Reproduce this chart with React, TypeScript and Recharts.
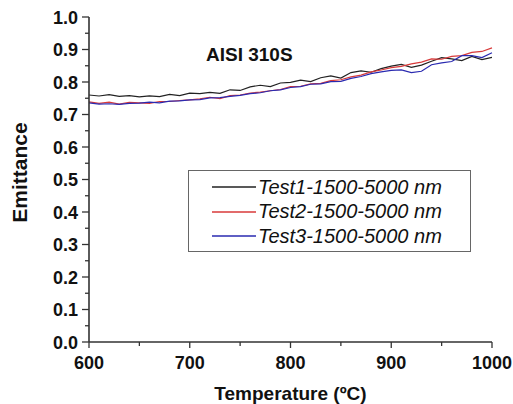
import React from 'react';
import { LineChart, Line, XAxis, YAxis, Legend, Customized } from 'recharts';

const temperatures = [600, 610, 620, 630, 640, 650, 660, 670, 680, 690, 700, 710, 720, 730, 740, 750, 760, 770, 780, 790, 800, 810, 820, 830, 840, 850, 860, 870, 880, 890, 900, 910, 920, 930, 940, 950, 960, 970, 980, 990, 1000];
const test1 = [0.760, 0.757, 0.761, 0.756, 0.758, 0.754, 0.757, 0.755, 0.762, 0.758, 0.766, 0.764, 0.768, 0.765, 0.776, 0.774, 0.785, 0.790, 0.786, 0.797, 0.799, 0.806, 0.801, 0.813, 0.819, 0.812, 0.829, 0.834, 0.830, 0.841, 0.849, 0.854, 0.845, 0.852, 0.864, 0.875, 0.871, 0.866, 0.879, 0.869, 0.876];
const test2 = [0.739, 0.734, 0.738, 0.732, 0.737, 0.736, 0.734, 0.740, 0.740, 0.743, 0.745, 0.748, 0.753, 0.749, 0.758, 0.760, 0.766, 0.769, 0.773, 0.777, 0.786, 0.787, 0.794, 0.796, 0.804, 0.807, 0.816, 0.821, 0.831, 0.837, 0.844, 0.848, 0.856, 0.861, 0.871, 0.870, 0.879, 0.881, 0.891, 0.894, 0.905];
const test3 = [0.736, 0.732, 0.733, 0.731, 0.734, 0.735, 0.738, 0.736, 0.741, 0.742, 0.745, 0.746, 0.751, 0.752, 0.756, 0.759, 0.764, 0.767, 0.773, 0.776, 0.783, 0.786, 0.793, 0.794, 0.801, 0.802, 0.811, 0.817, 0.826, 0.831, 0.836, 0.837, 0.829, 0.833, 0.853, 0.859, 0.863, 0.881, 0.881, 0.875, 0.890];

const seriesNames = ['Test1-1500-5000 nm', 'Test2-1500-5000 nm', 'Test3-1500-5000 nm'];
const seriesColors = ['#222222', '#d83a3a', '#2a2ab0'];
const xTicks = [600, 650, 700, 750, 800, 850, 900, 950, 1000];
const yTicks = [0, 0.05, 0.1, 0.15, 0.2, 0.25, 0.3, 0.35, 0.4, 0.45, 0.5, 0.55, 0.6, 0.65, 0.7, 0.75, 0.8, 0.85, 0.9, 0.95, 1.0];
const sampleLabel = 'AISI 310S';
const xTitle = 'Temperature (ºC)';
const yTitle = 'Emittance';

const data = temperatures.map((t, i) => ({ t, s1: test1[i], s2: test2[i], s3: test3[i] }));

const FONT = "Arial, 'Liberation Sans', sans-serif";
const AXIS = '#333';

const YTick = (props: any) => {
  const { x, y, payload } = props;
  const v = payload.value;
  const major = Math.abs(v * 10 - Math.round(v * 10)) < 1e-6;
  return (
    <g>
      <line x1={x - (major ? 7 : 4)} x2={x} y1={y} y2={y} stroke={AXIS} strokeWidth={1.3} />
      {major && (
        <text x={x - 11} y={y + 6.5} textAnchor="end" fontFamily={FONT} fontWeight="bold" fontSize={18} fill="#111">
          {v.toFixed(1)}
        </text>
      )}
    </g>
  );
};

const XTick = (props: any) => {
  const { x, y, payload } = props;
  const v = payload.value;
  const major = v % 100 === 0;
  return (
    <g>
      <line x1={x} x2={x} y1={y} y2={y + (major ? 6 : 4)} stroke={AXIS} strokeWidth={1.3} />
      {major && (
        <text x={x} y={y + 26.5} textAnchor="middle" fontFamily={FONT} fontWeight="bold" fontSize={18} fill="#111">
          {v}
        </text>
      )}
    </g>
  );
};

const LegendBox = () => (
  <div style={{ width: 281, height: 80, border: '1px solid #666', background: '#fff', boxSizing: 'content-box' }}>
    {seriesNames.map((n, i) => (
      <div key={n} style={{ display: 'flex', alignItems: 'center', height: 24.5, marginTop: i === 0 ? 4 : 0 }}>
        <svg width={69} height={10} style={{ display: 'block' }}>
          <line x1={23} x2={67} y1={5} y2={5} stroke={seriesColors[i]} strokeWidth={1.3} />
        </svg>
        <span style={{ fontFamily: FONT, fontStyle: 'italic', fontSize: 20, color: '#111', whiteSpace: 'nowrap' }}>{n}</span>
      </div>
    ))}
  </div>
);

const Title = () => (
  <text x={206} y={61} fontFamily={FONT} fontWeight="bold" fontSize={19} fill="#111">{sampleLabel}</text>
);

export default function App() {
  return (
    <div style={{ position: 'absolute', left: 0, top: 0, background: '#fff' }}>
      <LineChart width={513} height={404} data={data} margin={{ top: 17, right: 21, bottom: 0, left: 0 }}>
        <XAxis
          dataKey="t"
          type="number"
          domain={[600, 1000]}
          ticks={xTicks}
          interval={0}
          height={62}
          tickSize={0}
          tickMargin={0}
          tickLine={false}
          tick={<XTick />}
          axisLine={{ stroke: AXIS, strokeWidth: 1.6 }}
          label={{ value: xTitle, position: 'insideBottom', offset: 4, style: { fontFamily: FONT, fontWeight: 'bold', fontSize: 19, fill: '#111' } }}
        />
        <XAxis xAxisId="top" orientation="top" dataKey="t" type="number" domain={[600, 1000]} height={0} tick={false} tickLine={false} axisLine={{ stroke: '#666', strokeWidth: 1.3 }} />
        <YAxis
          type="number"
          domain={[0, 1]}
          ticks={yTicks}
          interval={0}
          width={89}
          tickSize={0}
          tickMargin={0}
          tickLine={false}
          tick={<YTick />}
          axisLine={{ stroke: AXIS, strokeWidth: 1.6 }}
          label={{
            content: (p: any) => {
              const vb = p.viewBox || { y: 17, height: 325 };
              const cy = vb.y + vb.height / 2 - 7;
              return (
                <text x={27} y={cy} transform={`rotate(-90 27 ${cy})`} textAnchor="middle" fontFamily={FONT} fontWeight="bold" fontSize={21} fill="#111">
                  {yTitle}
                </text>
              );
            },
          }}
        />
        <YAxis yAxisId="right" orientation="right" type="number" domain={[0, 1]} width={0} tick={false} tickLine={false} axisLine={{ stroke: '#666', strokeWidth: 1.3 }} />
        <Line dataKey="s1" name={seriesNames[0]} stroke={seriesColors[0]} strokeWidth={1.2} dot={false} isAnimationActive={false} />
        <Line dataKey="s2" name={seriesNames[1]} stroke={seriesColors[1]} strokeWidth={1.2} dot={false} isAnimationActive={false} />
        <Line dataKey="s3" name={seriesNames[2]} stroke={seriesColors[2]} strokeWidth={1.2} dot={false} isAnimationActive={false} />
        <Customized component={Title} />
        <Legend
          layout="vertical"
          align="center"
          verticalAlign="middle"
          content={<LegendBox />}
          wrapperStyle={{ position: 'absolute', left: 188, top: 170, width: 283, height: 82 }}
        />
      </LineChart>
    </div>
  );
}
